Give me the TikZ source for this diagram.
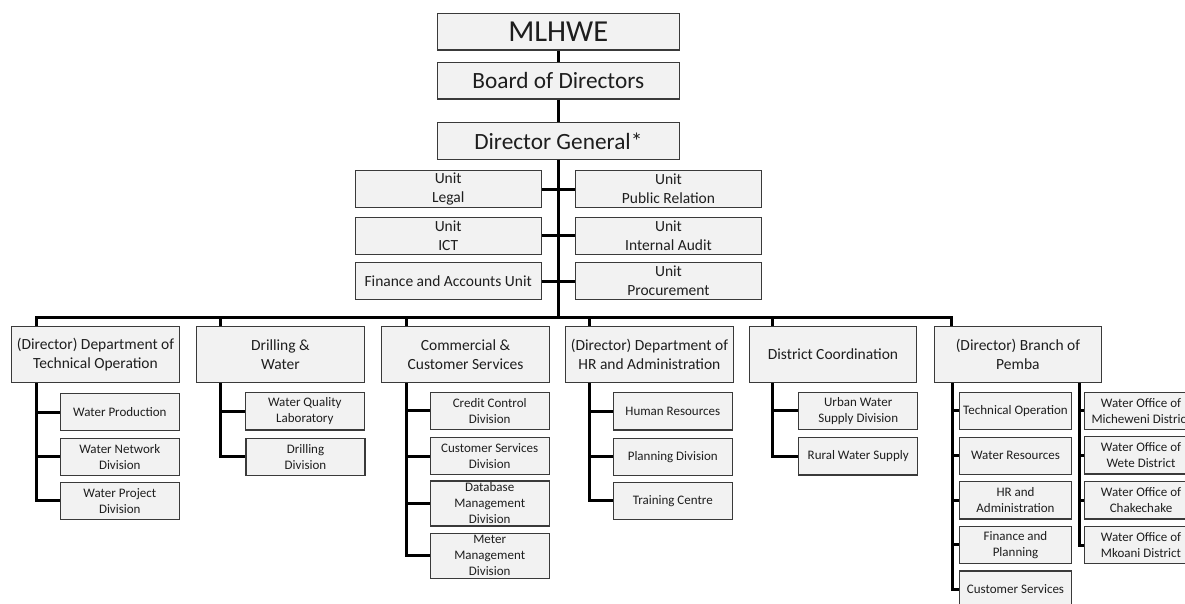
\documentclass[tikz,border=0pt]{standalone}
\usepackage{fontspec}
\setmainfont{Carlito}
\definecolor{boxfill}{HTML}{F2F2F2}
\definecolor{boxline}{HTML}{3A3A3A}
\definecolor{txt}{HTML}{1E1E1E}
\begin{document}
\begin{tikzpicture}[x=1pt,y=-1pt,
  box/.style={draw=boxline,line width=1.2pt,fill=boxfill,inner sep=0pt,align=center,text=txt},
  big/.style={box,minimum width=242pt,minimum height=36.7pt},
  unit/.style={box,minimum width=186pt,minimum height=36.8pt,font=\fontsize{15.5}{19}\selectfont},
  dept/.style={box,minimum width=167.5pt,minimum height=55.8pt,font=\fontsize{15.5}{19}\selectfont},
  sub/.style={box,minimum width=119pt,minimum height=37.2pt,font=\fontsize{13}{16}\selectfont},
  psub/.style={sub,minimum width=112.4pt},
  conn/.style={line width=3pt,black,line join=miter}]
\useasboundingbox (0,0) rectangle (1185,603);
\clip (0,0) rectangle (1185,603);
% top
\node[big,font=\fontsize{30.5}{34}\selectfont] (top) at (558.3,31.7) {MLHWE};
\node[big,font=\fontsize{23.3}{27}\selectfont] (board) at (558.3,80.7) {Board of Directors};
\node[big,font=\fontsize{23.3}{27}\selectfont] (dg) at (558.3,141) {Director General*};
% units
\node[unit] (legal) at (448.2,189) {Unit\\Legal};
\node[unit] (pr) at (668.5,189) {Unit\\Public Relation};
\node[unit] (ict) at (448.2,235.8) {Unit\\ICT};
\node[unit] (audit) at (668.5,235.8) {Unit\\Internal Audit};
\node[unit] (fin) at (448.2,281) {Finance and Accounts Unit};
\node[unit] (proc) at (668.5,281) {Unit\\Procurement};
% departments
\node[dept] (tech) at (95.5,354.6) {(Director) Department of\\Technical Operation};
\node[dept] (drill) at (280.4,354.6) {Drilling \&\\Water};
\node[dept] (comm) at (465.5,354.6) {Commercial \&\\Customer Services};
\node[dept] (hr) at (649.4,354.6) {(Director) Department of\\HR and Administration};
\node[dept] (dist) at (833,354.6) {District Coordination};
\node[dept] (pemba) at (1017.9,354.6) {(Director) Branch of\\Pemba};
% technical operation subs
\node[sub] (wp) at (119.8,412) {Water Production};
\node[sub] (wn) at (119.8,456.7) {Water Network\\Division};
\node[sub] (wpj) at (119.8,500.8) {Water Project\\Division};
% drilling subs
\node[sub] (wq) at (304.8,411.3) {Water Quality\\Laboratory};
\node[sub] (dd) at (305.5,456.7) {Drilling\\Division};
% commercial subs
\node[sub] (cc) at (489.7,410.7) {Credit Control\\Division};
\node[sub] (csd) at (489.7,456) {Customer Services\\Division};
\node[sub,minimum height=45pt] (db) at (489.7,503.5) {Database\\Management\\Division};
\node[sub,minimum height=45pt] (mm) at (489.7,555.8) {Meter\\Management\\Division};
% HR subs
\node[sub] (hrr) at (672.8,411.3) {Human Resources};
\node[sub] (pd) at (672.8,456.7) {Planning Division};
\node[sub] (tc) at (672.8,500.8) {Training Centre};
% district subs
\node[sub] (uw) at (858.2,410.8) {Urban Water\\Supply Division};
\node[sub] (rw) at (858.2,456.3) {Rural Water Supply};
% pemba left subs
\node[psub] (to) at (1015.5,410.8) {Technical Operation};
\node[psub] (wr) at (1015.5,455.7) {Water Resources};
\node[psub] (hra) at (1015.5,500.3) {HR and\\Administration};
\node[psub] (fp) at (1015.5,544.8) {Finance and\\Planning};
\node[psub] (cs) at (1015.5,589.5) {Customer Services};
% pemba right subs
\node[psub] (mich) at (1141,410.8) {Water Office of\\Micheweni District};
\node[psub] (wete) at (1141,455.3) {Water Office of\\Wete District};
\node[psub] (chak) at (1141,500.3) {Water Office of\\Chakechake};
\node[psub] (mkoani) at (1141,545) {Water Office of\\Mkoani District};
% top connectors
\draw[conn] (top.south) -- (board.north);
\draw[conn] (board.south) -- (dg.north);
\coordinate (bl) at (36,317.5);
\coordinate (br) at (951.7,317.5);
\draw[conn] (dg.south) -- (dg.south |- bl);
\draw[conn] (legal.east) -- (pr.west);
\draw[conn] (ict.east) -- (audit.west);
\draw[conn] (fin.east) -- (proc.west);
% bus
\draw[conn] (bl |- tech.north) -- (bl) -- (br) -- (br |- pemba.north);
\coordinate (d2) at (220.3,317.5);
\coordinate (d3) at (406,317.5);
\coordinate (d4) at (589.3,317.5);
\coordinate (d5) at (772,317.5);
\coordinate (d6) at (952.3,317.5);
\coordinate (d7) at (1079.3,317.5);
\draw[conn] (d2) -- (d2 |- drill.north);
\draw[conn] (d3) -- (d3 |- comm.north);
\draw[conn] (d4) -- (d4 |- hr.north);
\draw[conn] (d5) -- (d5 |- dist.north);
% tech subtree
\draw[conn] (bl |- tech.south) -- (bl |- wpj.west) -- (wpj.west);
\draw[conn] (bl |- wp.west) -- (wp.west);
\draw[conn] (bl |- wn.west) -- (wn.west);
% drilling subtree
\draw[conn] (d2 |- drill.south) -- (d2 |- dd.west) -- (dd.west);
\draw[conn] (d2 |- wq.west) -- (wq.west);
% commercial subtree
\draw[conn] (d3 |- comm.south) -- (d3 |- mm.west) -- (mm.west);
\draw[conn] (d3 |- cc.west) -- (cc.west);
\draw[conn] (d3 |- csd.west) -- (csd.west);
\draw[conn] (d3 |- db.west) -- (db.west);
% HR subtree
\draw[conn] (d4 |- hr.south) -- (d4 |- tc.west) -- (tc.west);
\draw[conn] (d4 |- hrr.west) -- (hrr.west);
\draw[conn] (d4 |- pd.west) -- (pd.west);
% district subtree
\draw[conn] (d5 |- dist.south) -- (d5 |- rw.west) -- (rw.west);
\draw[conn] (d5 |- uw.west) -- (uw.west);
% pemba left subtree
\draw[conn] (d6 |- pemba.south) -- (d6 |- cs.west) -- (cs.west);
\draw[conn] (d6 |- to.west) -- (to.west);
\draw[conn] (d6 |- wr.west) -- (wr.west);
\draw[conn] (d6 |- hra.west) -- (hra.west);
\draw[conn] (d6 |- fp.west) -- (fp.west);
% pemba right subtree
\draw[conn] (d7 |- pemba.south) -- (d7 |- mkoani.west) -- (mkoani.west);
\draw[conn] (d7 |- mich.west) -- (mich.west);
\draw[conn] (d7 |- wete.west) -- (wete.west);
\draw[conn] (d7 |- chak.west) -- (chak.west);
\end{tikzpicture}
\end{document}
